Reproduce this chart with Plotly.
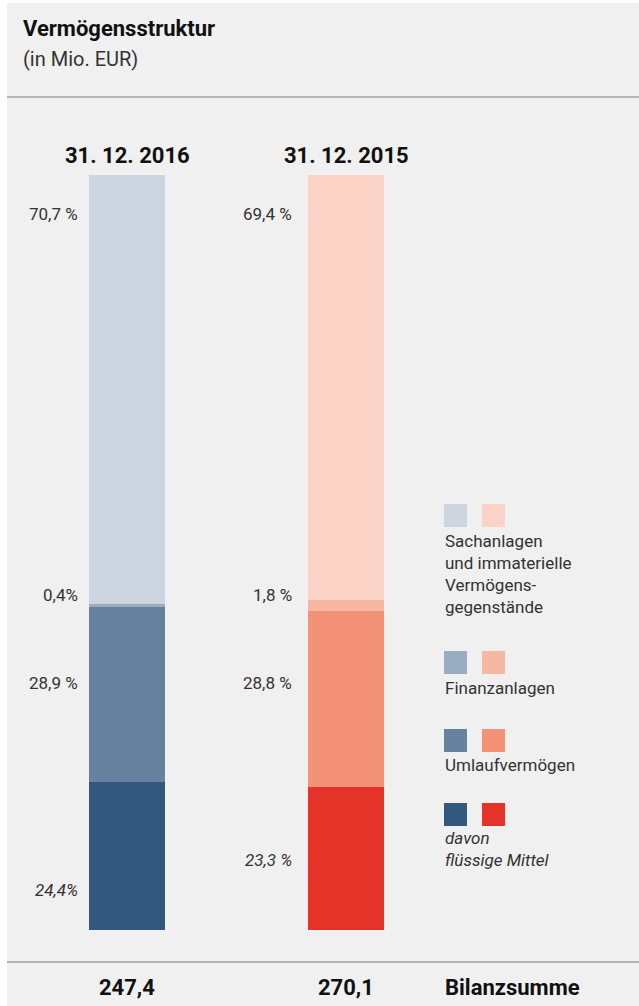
import plotly.graph_objects as go

# ---------------- data ----------------
years = ["31. 12. 2016", "31. 12. 2015"]
totals = ["247,4", "270,1"]
# stacked from bottom to top
categories = ["davon flüssige Mittel", "Umlaufvermögen", "Finanzanlagen",
              "Sachanlagen und immaterielle Vermögensgegenstände"]
values_2016 = [24.4, 28.9, 0.4, 70.7]
values_2015 = [23.3, 28.8, 1.8, 69.4]
labels_2016 = ["24,4%", "28,9 %", "0,4%", "70,7 %"]
labels_2015 = ["23,3 %", "28,8 %", "1,8 %", "69,4 %"]
colors_2016 = ["#33587f", "#67829f", "#9aacbf", "#ccd5e0"]
colors_2015 = ["#e5332a", "#f39276", "#f7b8a2", "#fbd3c6"]
legend_texts = ["<i>davon<br>flüssige Mittel</i>", "Umlaufvermögen", "Finanzanlagen",
                "Sachanlagen<br>und immaterielle<br>Vermögens-<br>gegenstände"]

# ---------------- layout geometry ----------------
W, H = 639, 1006
LEFT = 7                     # white strip at left
TOP, BOT = 175, 930          # plot area (bar) top / bottom in px
PH = BOT - TOP
PW = W - LEFT


def px(x):
    return (x - LEFT) / PW


def py(y):
    return (BOT - y) / PH


FONT = "Roboto"
DARK = "#333333"
BLACK = "#111111"

fig = go.Figure()
for i, cat in enumerate(categories):
    fig.add_trace(go.Bar(
        x=[0, 1], y=[values_2016[i], values_2015[i]],
        marker=dict(color=[colors_2016[i], colors_2015[i]], line=dict(width=0)),
        width=76 / 219, name=cat, hoverinfo="skip", showlegend=False,
    ))

# x mapping: category centres at 127px and 346px
a = -(127 - LEFT) / 219
b = a + PW / 219

shapes = [
    dict(type="rect", xref="paper", yref="paper", x0=0, x1=1.0, y0=-0.2, y1=py(3),
         fillcolor="#f0f0f0", line=dict(width=0), layer="below"),
    dict(type="line", xref="paper", yref="paper", x0=0, x1=1.0, y0=py(97), y1=py(97),
         line=dict(color="#b4b4b4", width=2)),
    dict(type="line", xref="paper", yref="paper", x0=0, x1=1.0, y0=py(962), y1=py(962),
         line=dict(color="#b4b4b4", width=2)),
]

annotations = []


def txt(x, y, text, size, color=DARK, bold=False, xanchor="left", italic=False):
    t = text
    if bold:
        t = "<b>" + t + "</b>"
    if italic:
        t = "<i>" + t + "</i>"
    annotations.append(dict(xref="paper", yref="paper", x=px(x), y=py(y), text=t,
                            showarrow=False, xanchor=xanchor, yanchor="middle",
                            font=dict(family=FONT, size=size, color=color)))


# title
txt(21, 28, "Vermögensstruktur", 22, BLACK, bold=True)
txt(21, 59, "(in Mio. EUR)", 20, DARK)

# year headers and totals
for i, yr in enumerate(years):
    annotations.append(dict(xref="x", yref="paper", x=i, y=py(156), text="<b>" + yr + "</b>",
                            showarrow=False, xanchor="center", yanchor="middle",
                            font=dict(family=FONT, size=22, color=BLACK)))
    annotations.append(dict(xref="x", yref="paper", x=i, y=py(987), text="<b>" + totals[i] + "</b>",
                            showarrow=False, xanchor="center", yanchor="middle",
                            font=dict(family=FONT, size=22, color=BLACK)))
txt(443, 987, "Bilanzsumme", 22, BLACK, bold=True)

# percent labels (vertical label positions in px)
label_pos_2016 = [890, 683, 595, 214]
label_pos_2015 = [860, 683, 595, 214]
for i in range(4):
    for j, (labs, pos) in enumerate([(labels_2016, label_pos_2016), (labels_2015, label_pos_2015)]):
        t = labs[i]
        if i == 0:
            t = "<i>" + t + "</i>"
        annotations.append(dict(xref="x", yref="paper", x=j, y=py(pos[i]), text=t,
                                showarrow=False, xanchor="right", yanchor="middle",
                                xshift=-47 if j == 0 else -52,
                                font=dict(family=FONT, size=17, color=DARK)))

# legend swatches + texts (top-left px of swatch rows)
leg_rows = [803, 729, 651, 504]
leg_text_y = [849, 765, 688, 574]
for i in range(4):
    y0 = leg_rows[i]
    for k, (cols, x0) in enumerate([(colors_2016, 444), (colors_2015, 482)]):
        shapes.append(dict(type="rect", xref="paper", yref="paper",
                           x0=px(x0), x1=px(x0 + 23), y0=py(y0 + 23), y1=py(y0),
                           fillcolor=cols[i], line=dict(width=0)))
    annotations.append(dict(xref="paper", yref="paper", x=px(443), y=py(leg_text_y[i]),
                            text=legend_texts[i], showarrow=False, xanchor="left",
                            yanchor="middle", align="left",
                            font=dict(family=FONT, size=17, color=DARK)))

fig.update_layout(
    width=W, height=H,
    margin=dict(l=LEFT, r=0, t=TOP, b=H - BOT, pad=0),
    paper_bgcolor="#ffffff", plot_bgcolor="rgba(0,0,0,0)",
    barmode="stack", barnorm="percent", bargap=0,
    xaxis=dict(range=[a, b], visible=False, fixedrange=True),
    yaxis=dict(range=[0, 100], visible=False, fixedrange=True),
    shapes=shapes, annotations=annotations, showlegend=False,
)
fig.write_html("out.html")
